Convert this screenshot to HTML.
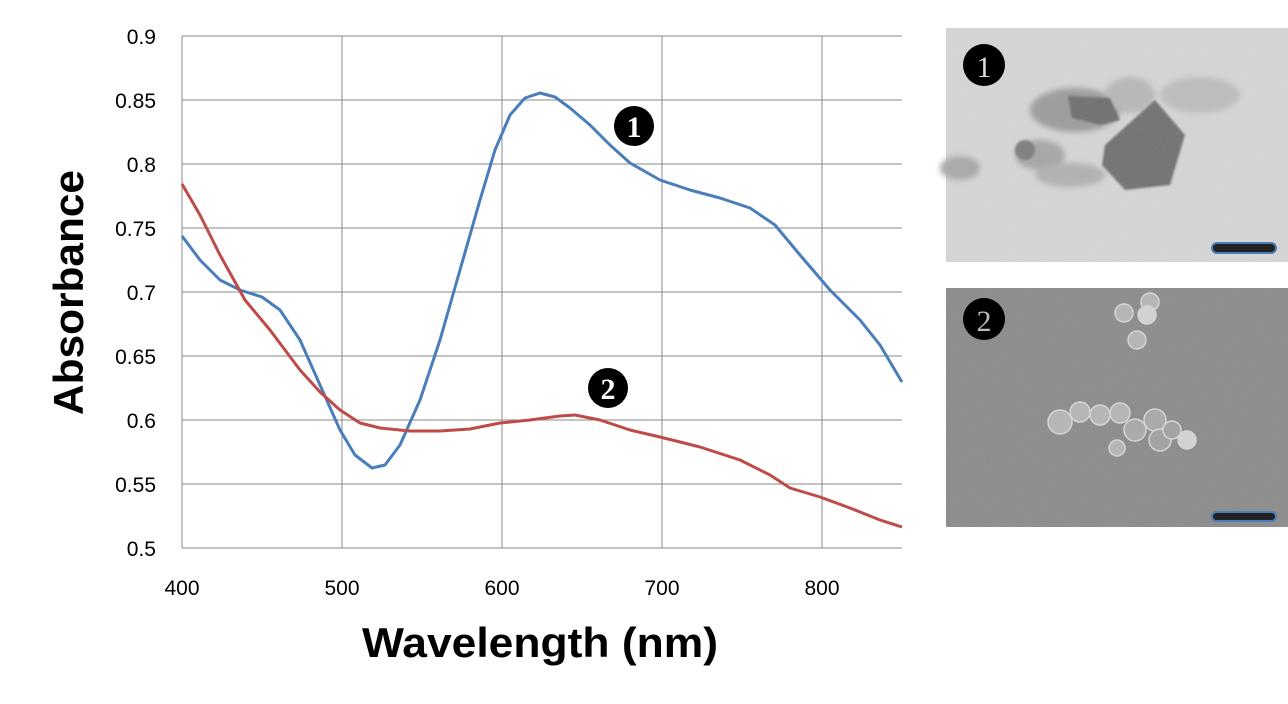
<!DOCTYPE html>
<html><head><meta charset="utf-8"><style>
html,body{margin:0;padding:0;background:#fff;width:1288px;height:704px;overflow:hidden}
</style></head><body>
<svg width="1288" height="704" viewBox="0 0 1288 704" xmlns="http://www.w3.org/2000/svg" font-family="Liberation Sans, sans-serif">
<defs>
<filter id="n1"><feTurbulence type="fractalNoise" baseFrequency="0.9" numOctaves="2" seed="3"/><feColorMatrix type="matrix" values="0 0 0 0 0.5  0 0 0 0 0.5  0 0 0 0 0.5  0 0 0 0.25 0"/><feComposite operator="in" in2="SourceGraphic"/></filter>
<filter id="b1"><feGaussianBlur stdDeviation="3"/></filter>
<filter id="b2"><feGaussianBlur stdDeviation="1"/></filter>
</defs>
<g stroke="#888" stroke-width="1">
<line x1="182" y1="36" x2="902" y2="36"/><line x1="182" y1="100" x2="902" y2="100"/><line x1="182" y1="164" x2="902" y2="164"/><line x1="182" y1="228" x2="902" y2="228"/><line x1="182" y1="292" x2="902" y2="292"/><line x1="182" y1="356" x2="902" y2="356"/><line x1="182" y1="420" x2="902" y2="420"/><line x1="182" y1="484" x2="902" y2="484"/><line x1="182" y1="548" x2="902" y2="548"/>
<line x1="182" y1="36" x2="182" y2="548"/><line x1="342" y1="36" x2="342" y2="548"/><line x1="502" y1="36" x2="502" y2="548"/><line x1="662" y1="36" x2="662" y2="548"/><line x1="822" y1="36" x2="822" y2="548"/>
</g>
<g font-size="21" fill="#000" text-anchor="end">
<text x="156" y="44">0.9</text><text x="156" y="108">0.85</text><text x="156" y="172">0.8</text><text x="156" y="236">0.75</text><text x="156" y="300">0.7</text><text x="156" y="364">0.65</text><text x="156" y="428">0.6</text><text x="156" y="492">0.55</text><text x="156" y="556">0.5</text>
</g>
<g font-size="21" fill="#000" text-anchor="middle">
<text x="182" y="595">400</text><text x="342" y="595">500</text><text x="502" y="595">600</text><text x="662" y="595">700</text><text x="822" y="595">800</text>
</g>
<text x="362" y="657" font-size="42" font-weight="bold" textLength="356" lengthAdjust="spacingAndGlyphs">Wavelength (nm)</text>
<text transform="translate(83,415) rotate(-90)" font-size="42" font-weight="bold" textLength="245" lengthAdjust="spacingAndGlyphs">Absorbance</text>
<polyline fill="none" stroke="#4a7ebb" stroke-width="3" stroke-linejoin="round" points="182,236 200,260 220,280 240,290 262,297 280,310 300,340 320,385 340,430 355,455 372,468 385,465 400,445 420,400 440,340 460,270 480,200 495,150 510,115 525,98 540,93 555,97 570,108 590,125 610,145 630,163 660,180 690,190 720,198 750,208 775,225 800,255 830,290 860,320 880,345 902,382"/>
<polyline fill="none" stroke="#be4b48" stroke-width="3" stroke-linejoin="round" points="182,184 200,215 220,255 245,300 270,330 300,370 320,392 340,410 360,423 380,428 410,431 440,431 470,429 500,423 530,420 560,416 575,415 600,420 630,430 660,437 700,447 740,460 770,475 790,488 820,497 850,508 880,520 902,527"/>
<circle cx="634" cy="126" r="20" fill="#000"/><text x="634" y="137" font-size="30" font-weight="bold" fill="#fff" text-anchor="middle" font-family="Liberation Serif, serif">1</text>
<circle cx="608" cy="388" r="20" fill="#000"/><text x="608" y="399" font-size="30" font-weight="bold" fill="#fff" text-anchor="middle" font-family="Liberation Serif, serif">2</text>
<!-- image 1 -->
<rect x="946" y="28" width="342" height="234" fill="#d8d8d8"/>
<g filter="url(#b1)">
<ellipse cx="1075" cy="110" rx="45" ry="22" fill="#9a9a9a"/>
<ellipse cx="1130" cy="95" rx="25" ry="18" fill="#b8b8b8"/>
<ellipse cx="1200" cy="95" rx="40" ry="18" fill="#bdbdbd"/>
<ellipse cx="1040" cy="155" rx="25" ry="15" fill="#a5a5a5"/>
<ellipse cx="1070" cy="175" rx="35" ry="12" fill="#b0b0b0"/>
<ellipse cx="960" cy="168" rx="20" ry="12" fill="#a8a8a8"/>
</g>
<g filter="url(#b2)">
<path d="M1068 96 L1110 98 L1120 120 L1100 125 L1072 118 Z" fill="#6a6a6a"/>
<path d="M1105 145 L1155 100 L1185 135 L1170 185 L1125 190 L1102 165 Z" fill="#6c6c6c"/>
<ellipse cx="1025" cy="150" rx="10" ry="10" fill="#7a7a7a"/>
</g>
<rect x="946" y="28" width="342" height="234" fill="#fff" filter="url(#n1)"/>
<rect x="1212" y="243" width="64" height="10" rx="5" fill="#222" stroke="#4a7ebb" stroke-width="2"/>
<circle cx="984" cy="65" r="21" fill="#000"/><text x="984" y="77" font-size="30" fill="#ddd" text-anchor="middle" font-family="Liberation Serif, serif">1</text>
<!-- image 2 -->
<rect x="946" y="288" width="342" height="239" fill="#888"/>
<g fill="#b5b5b5" stroke="#d8d8d8" stroke-width="1.5">
<circle cx="1124" cy="313" r="9"/><circle cx="1150" cy="302" r="9"/><circle cx="1137" cy="340" r="9"/><circle cx="1147" cy="315" r="9" fill="#d5d5d5"/>
<circle cx="1060" cy="422" r="12"/><circle cx="1080" cy="412" r="10"/><circle cx="1100" cy="415" r="10"/><circle cx="1120" cy="413" r="10"/><circle cx="1135" cy="430" r="11" fill="#a8a8a8"/><circle cx="1155" cy="420" r="11" fill="#a8a8a8"/><circle cx="1160" cy="440" r="11" fill="#a0a0a0"/><circle cx="1172" cy="430" r="9" fill="#a0a0a0"/><circle cx="1117" cy="448" r="8"/><circle cx="1187" cy="440" r="9" fill="#d5d5d5"/>
</g>
<rect x="946" y="288" width="342" height="239" fill="#fff" filter="url(#n1)"/>
<rect x="1212" y="512" width="64" height="9" rx="4.5" fill="#222" stroke="#4a7ebb" stroke-width="2"/>
<circle cx="984" cy="319" r="21" fill="#000"/><text x="984" y="331" font-size="30" fill="#bbb" text-anchor="middle" font-family="Liberation Serif, serif">2</text>
</svg>
</body></html>
